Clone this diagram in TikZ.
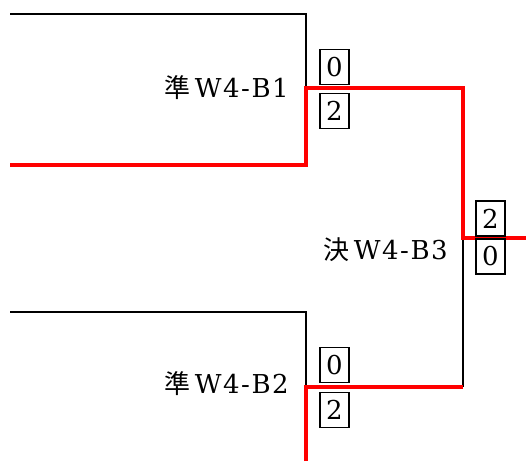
\documentclass[tikz,border=0pt]{standalone}
\usepackage{fontspec}
\setmainfont[LetterSpace=6]{DejaVu Serif}
\newfontfamily\cjk{Noto Sans CJK JP}
\begin{document}
\begin{tikzpicture}[x=1pt,y=-1pt,
    loser/.style={black,line width=1.6pt},
    winner/.style={red,line width=4pt},
    score/.style={draw,line width=1.4pt,minimum width=29pt,minimum height=35pt,inner sep=0pt,font=\fontsize{26}{28}\selectfont},
    match/.style={anchor=base east,inner sep=0pt,font=\fontsize{26}{28}\selectfont}]
    \useasboundingbox (0,0) rectangle (526,461);
    % bracket corners
    \coordinate (a1) at (10,14);
    \coordinate (a2) at (306,14);
    \coordinate (b1) at (10,165);
    \coordinate (b2) at (306,165);
    \coordinate (m1) at (306,88);
    \coordinate (m1r) at (463,88);
    \coordinate (m3) at (463,238);
    \coordinate (out) at (526,238);
    \coordinate (c1) at (10,312);
    \coordinate (c2) at (306,312);
    \coordinate (d2) at (306,461);
    \coordinate (m2) at (306,387);
    \coordinate (m2r) at (463,387);
    % losers
    \draw[loser] (a1) -- (a2) -- (m1);
    \draw[loser] (c1) -- (c2) -- (m2);
    \draw[loser] (m2r) -- (m3);
    % winners
    \draw[winner] (b1) -- (b2) -- (m1) -- (m1r) -- (m3) -- (out);
    \draw[winner] (d2) -- (m2) -- (m2r);
    % match names
    \node[match] (n1) at (289,97) {{\cjk 準}\hspace{4pt}W4-B1};
    \node[match] (n2) at (289,393) {{\cjk 準}\hspace{4pt}W4-B2};
    \node[match] (n3) at (448,259) {{\cjk 決}\hspace{4pt}W4-B3};
    % scores
    \node[score] (s1a) at (334.5,67) {0};
    \node[score] (s1b) at (334.5,111) {2};
    \node[score] (s2a) at (334.5,365) {0};
    \node[score] (s2b) at (334.5,410) {2};
    \node[score] (s3a) at (490.5,218.5) {2};
    \node[score] (s3b) at (490.5,256.5) {0};
\end{tikzpicture}
\end{document}
